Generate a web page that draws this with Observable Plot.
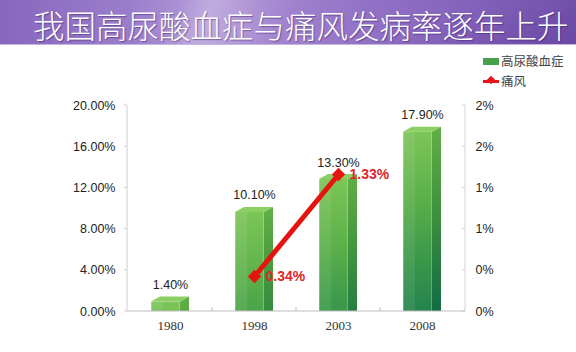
<!DOCTYPE html>
<html><head><meta charset="utf-8">
<script src="https://cdn.jsdelivr.net/npm/d3@7"></script>
<script src="https://cdn.jsdelivr.net/npm/@observablehq/plot@0.6"></script>
<style>
body{margin:0;background:#fff;}
#wrap{position:relative;width:576px;height:352px;overflow:hidden;background:#fff;}
#banner{position:absolute;left:0;top:0;width:576px;height:44px;
 background:
  linear-gradient(118deg, rgba(255,255,255,0) 30%, rgba(255,255,255,0.18) 36%, rgba(255,255,255,0.05) 44%, rgba(255,255,255,0) 50%),
  linear-gradient(160deg, rgba(60,30,120,0) 70%, rgba(60,30,120,0.25) 100%),
  linear-gradient(90deg,#8767bd 0%,#9a7dca 22%,#b39bd8 36%,#a385cf 48%,#9373c6 62%,#8462bb 82%,#7856b2 100%);
 border-bottom:1px solid #c7b6e2;}
#title{position:absolute;left:33px;top:5px;font-family:"Noto Sans CJK SC",sans-serif;font-size:31.5px;font-weight:300;color:#fff;white-space:nowrap;line-height:38px;text-shadow:1px 1px 1px rgba(50,20,90,0.45);}
#legend{position:absolute;left:483px;top:51px;font-family:"Noto Sans CJK SC",sans-serif;font-size:12.5px;color:#444;line-height:20px;}
#legend .row{display:flex;align-items:center;height:20px;}
#legend .sw{width:16px;height:7px;background:#4aa04a;margin-right:2px;}
#legend .ln{position:relative;width:16px;height:3px;background:#e8161b;margin-right:2px;}
#legend .ln i{position:absolute;left:5px;top:-2.5px;width:6px;height:6px;background:#e8161b;transform:rotate(45deg);}
#chart{position:absolute;left:0;top:0;}
</style>
</head><body>
<div id="wrap">
 <div id="chart"></div>
 <div id="banner"><div id="title"></div></div>
 <div id="legend"></div>
</div>
<script>
// ---- data ----
const titleText = "我国高尿酸血症与痛风发病率逐年上升";
const years = ["1980", "1998", "2003", "2008"];
const hyperuricemia = [1.40, 10.10, 13.30, 17.90];   // % (left axis)
const gout = [null, 0.34, 1.33, null];               // % (right axis)
const leftTicks = [0, 4, 8, 12, 16, 20];
const rightTicks = [0, 0.4, 0.8, 1.2, 1.6, 2.0];
const seriesNames = ["高尿酸血症", "痛风"];
const RATIO = 10; // right axis 0–2% maps onto left axis 0–20%

document.getElementById("title").textContent = titleText;
document.getElementById("legend").innerHTML =
  `<div class="row"><div class="sw"></div>${seriesNames[0]}</div>` +
  `<div class="row"><div class="ln"><i></i></div>${seriesNames[1]}</div>`;

const rows = years.map((y, i) => ({year: y, hu: hyperuricemia[i], gout: gout[i], i}));
const goutRows = rows.filter(d => d.gout != null);

const FRONT_L = 19, FRONT_R = 10, DEPTH = 9, RISE = 5;

const faces = (index, scales, values, dim) => {
  const x = scales.x, y = scales.y;
  const bw = x.bandwidth();
  const g = d3.create("svg:g");
  const defs = g.append("defs");
  const y0 = y(0);
  const left = dim.marginLeft, right = dim.width - dim.marginRight, top = dim.marginTop;
  // axis lines
  g.append("line").attr("x1", left).attr("x2", left).attr("y1", top).attr("y2", y0).attr("stroke", "#cfcfcf");
  g.append("line").attr("x1", right).attr("x2", right).attr("y1", top).attr("y2", y0).attr("stroke", "#dcd3d3");
  leftTicks.forEach(t => g.append("line").attr("x1", left - 3).attr("x2", left).attr("y1", y(t)).attr("y2", y(t)).attr("stroke", "#cfcfcf"));
  rightTicks.forEach(t => g.append("line").attr("x1", right - 3).attr("x2", right).attr("y1", y(t * RATIO)).attr("y2", y(t * RATIO)).attr("stroke", "#dcd3d3"));
  years.slice(1).forEach(yr => g.append("line").attr("x1", x(yr)).attr("x2", x(yr)).attr("y1", y0 - 4).attr("y2", y0).attr("stroke", "#bdbdbd"));
  rows.forEach(d => {
    const c = x(d.year) + bw / 2;
    const x0 = c - FRONT_L, x1 = c + FRONT_R;
    const yb = y(d.hu), yf = yb + RISE;
    const span = 190;
    const gf = defs.append("linearGradient").attr("id", "gf" + d.i).attr("gradientUnits", "userSpaceOnUse")
      .attr("x1", 0).attr("y1", yf).attr("x2", 0).attr("y2", yf + span);
    [[0, "#7cc558"], [0.35, "#5cb04a"], [0.7, "#379649"], [1, "#21804e"]].forEach(([o, c]) => gf.append("stop").attr("offset", o).attr("stop-color", c));
    const gs = defs.append("linearGradient").attr("id", "gs" + d.i).attr("gradientUnits", "userSpaceOnUse")
      .attr("x1", 0).attr("y1", yf).attr("x2", 0).attr("y2", yf + span);
    [[0, "#5fad45"], [0.4, "#40933e"], [0.75, "#227a42"], [1, "#0c6844"]].forEach(([o, c]) => gs.append("stop").attr("offset", o).attr("stop-color", c));
    // side
    g.append("path").attr("d", `M${x1},${y0}L${x1},${yf}L${x1 + DEPTH},${yb}L${x1 + DEPTH},${y0}Z`).attr("fill", `url(#gs${d.i})`);
    // top
    g.append("path").attr("d", `M${x0},${yf}L${x1},${yf}L${x1 + DEPTH},${yb}L${x0 + DEPTH},${yb}Z`).attr("fill", "#8bce62");
    // left highlight on front face
    g.append("rect").attr("x", x0).attr("y", yf).attr("width", 12).attr("height", Math.max(0, y0 - yf)).attr("fill", "#ffffff").attr("opacity", 0.08);
  });
  // bottom axis on top
  g.append("line").attr("x1", left).attr("x2", right).attr("y1", y0).attr("y2", y0).attr("stroke", "#bdbdbd");
  return g.node();
};

const chart = Plot.plot({
  width: 576,
  height: 352,
  marginLeft: 127,
  marginRight: 111,
  marginTop: 105,
  marginBottom: 41,
  style: {background: "transparent", fontFamily: "'Liberation Sans', Arial, sans-serif", color: "#222"},
  x: {domain: years, padding: 0},
  y: {domain: [0, 20]},
  color: {type: "identity"},
  marks: [
    Plot.axisY({anchor: "left", ticks: leftTicks, tickFormat: d => d.toFixed(2) + "%", tickSize: 0, tickPadding: 12, fontSize: 12.5, fill: "#222", label: null}),
    Plot.axisY({anchor: "right", ticks: rightTicks.map(t => t * RATIO), tickFormat: d => Math.round(d / RATIO) + "%", tickSize: 0, tickPadding: 10, fontSize: 12.5, fill: "#222", label: null}),
    Plot.axisX({ticks: years, tickSize: 0, tickPadding: 9, fontSize: 13, fontFamily: "'Liberation Serif', 'Times New Roman', serif", fill: "#333", label: null}),
    Plot.barY(rows, {x: "year", y: "hu", fill: d => `url(#gf${d.i})`, insetLeft: 84.5 / 2 - FRONT_L, insetRight: 84.5 / 2 - FRONT_R, insetTop: RISE}),
    faces,
    Plot.text(rows, {x: "year", y: "hu", text: d => d.hu.toFixed(2) + "%", dy: -12, fontSize: 12.5, fill: "#222"}),
    Plot.line(goutRows, {x: "year", y: d => d.gout * RATIO, stroke: "#e6140f", strokeWidth: 5}),
    Plot.dot(goutRows, {x: "year", y: d => d.gout * RATIO, symbol: "diamond2", r: 6, fill: "#e6140f", stroke: "none"}),
    Plot.text(goutRows, {x: "year", y: d => d.gout * RATIO, text: d => d.gout.toFixed(2) + "%", textAnchor: "start", dx: 11, fontSize: 14, fontWeight: "bold", fill: "#e0262b"})
  ]
});
document.getElementById("chart").appendChild(chart);
</script>
</body></html>
